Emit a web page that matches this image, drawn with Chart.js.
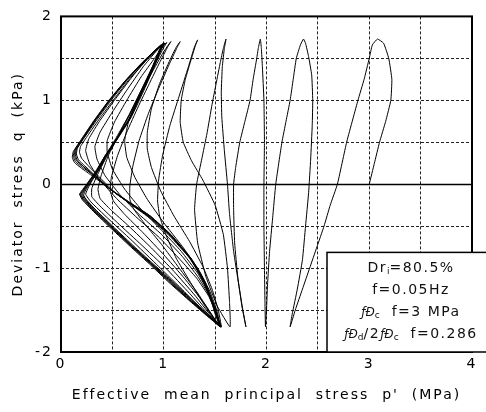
<!DOCTYPE html>
<html><head><meta charset="utf-8">
<script src="https://cdn.jsdelivr.net/npm/chart.js@4.4.0/dist/chart.umd.min.js"></script>
<style>html,body{margin:0;padding:0;background:#fff;}canvas{display:block;}</style>
</head><body>
<canvas id="c" width="486" height="412"></canvas>
<script>
// ---- axis ticks ----
const xTickValues = [0, 1, 2, 3, 4];
const yTickValues = [-2, -1, 0, 1, 2];
const xTitle = "Effective  mean  principal  stress  p'  (MPa)";
const yTitle = "Deviator  stress  q  (kPa)";
// ---- note text (segments: [text, 0 normal / 1 subscript / 2 small]) ----
const noteLine1 = [["Dr",0],["i",1],["=80.5%",0]];
const noteLine2 = [["f=0.05Hz",0]];
const noteLine3 = [["ƒÐ",2],["c",1],["  f=3 MPa",0]];
const noteLine4 = [["ƒÐ",2],["d",1],["/2",0],["ƒÐ",2],["c",1],["  f=0.286",0]];

// ---- stress path, [p', q], cycle by cycle ----
const cycle1 = [[3.00,0.00],[3.05,0.25],[3.10,0.50],[3.16,0.75],[3.21,1.00],[3.22,1.25],[3.19,1.50],[3.14,1.68],[3.08,1.73],
  [3.03,1.66],[3.00,1.50],[2.95,1.25],[2.89,1.00],[2.78,0.50],[2.69,0.00],[2.62,-0.25],[2.56,-0.50],[2.49,-0.75],[2.42,-1.00],[2.35,-1.25],[2.28,-1.50],[2.23,-1.70]];
const cycle2 = [[2.25,-1.55],[2.30,-1.25],[2.35,-0.90],[2.38,-0.50],[2.41,-0.10],[2.43,0.30],[2.445,0.70],[2.45,1.00],[2.44,1.30],[2.41,1.52],[2.38,1.68],[2.36,1.73],
  [2.33,1.66],[2.29,1.50],[2.26,1.25],[2.23,1.00],[2.19,0.75],[2.15,0.50],[2.09,0.00],[2.06,-0.40],[2.03,-0.80],[2.01,-1.20],[2.00,-1.50],[1.99,-1.70]];
const cycle3 = [[1.985,-1.40],[1.98,-1.00],[1.975,-0.50],[1.975,0.00],[1.98,0.50],[1.975,1.00],[1.96,1.40],[1.95,1.62],[1.94,1.73],
  [1.92,1.62],[1.905,1.50],[1.87,1.25],[1.84,1.00],[1.79,0.75],[1.74,0.50],[1.70,0.20],[1.68,0.00],[1.68,-0.30],[1.69,-0.70],[1.72,-1.10],[1.76,-1.45],[1.80,-1.70]];
const cycle4 = [[1.77,-1.50],[1.73,-1.20],[1.68,-0.80],[1.64,-0.35],[1.62,0.00],[1.59,0.40],[1.565,0.80],[1.56,1.10],[1.57,1.40],[1.59,1.62],[1.606,1.73],
  [1.58,1.62],[1.55,1.45],[1.51,1.20],[1.47,0.95],[1.42,0.60],[1.37,0.30],[1.32,0.00],[1.30,-0.30],[1.33,-0.70],[1.41,-1.10],[1.52,-1.45],[1.645,-1.70]];
const cycle5 = [[1.64,-1.40],[1.62,-1.00],[1.58,-0.60],[1.50,-0.25],[1.38,0.05],[1.27,0.28],[1.19,0.50],[1.16,0.74],[1.17,1.00],[1.21,1.25],[1.27,1.50],[1.31,1.66],[1.33,1.72],
  [1.30,1.64],[1.24,1.40],[1.15,1.05],[1.06,0.70],[0.99,0.35],[0.95,0.05],[0.94,-0.20],[0.96,-0.38],[1.02,-0.60],[1.12,-0.88],[1.25,-1.15],[1.40,-1.45],[1.50,-1.62],[1.56,-1.70]];
const cycle6 = [[1.53,-1.50],[1.47,-1.25],[1.38,-0.98],[1.25,-0.68],[1.10,-0.38],[0.97,-0.08],[0.88,0.20],[0.84,0.42],[0.84,0.62],[0.88,0.90],[0.96,1.20],[1.06,1.48],[1.12,1.63],[1.16,1.70],
  [1.13,1.63],[1.05,1.42],[0.95,1.14],[0.85,0.84],[0.76,0.52],[0.70,0.22],[0.67,-0.02],[0.67,-0.18],[0.71,-0.30],[0.82,-0.48],[0.98,-0.72],[1.15,-1.00],[1.32,-1.28],[1.45,-1.52],[1.55,-1.70]];
const cycle7 = [[1.52,-1.52],[1.45,-1.28],[1.34,-1.02],[1.18,-0.74],[1.00,-0.46],[0.84,-0.18],[0.72,0.08],[0.64,0.32],[0.62,0.52],[0.66,0.76],[0.76,1.04],[0.88,1.32],[0.99,1.56],[1.05,1.67],[1.07,1.70],
  [1.04,1.64],[0.96,1.45],[0.86,1.20],[0.75,0.92],[0.64,0.62],[0.55,0.34],[0.49,0.08],[0.48,-0.08],[0.51,-0.20],[0.62,-0.36],[0.80,-0.58],[1.00,-0.84],[1.20,-1.12],[1.38,-1.40],[1.50,-1.62],[1.55,-1.70]];
const cycle8 = [[1.51,-1.52],[1.44,-1.30],[1.33,-1.06],[1.17,-0.80],[0.98,-0.55],[0.78,-0.30],[0.62,-0.06],[0.50,0.18],[0.45,0.38],[0.45,0.52],[0.52,0.74],[0.64,1.00],[0.78,1.28],[0.91,1.50],[0.99,1.64],[1.03,1.69],
  [1.00,1.63],[0.92,1.44],[0.81,1.17],[0.69,0.88],[0.57,0.60],[0.46,0.34],[0.39,0.10],[0.36,-0.06],[0.38,-0.17],[0.48,-0.30],[0.66,-0.50],[0.88,-0.76],[1.10,-1.04],[1.30,-1.32],[1.46,-1.57],[1.55,-1.70]];
const cycle9 = [[1.51,-1.54],[1.44,-1.32],[1.33,-1.10],[1.18,-0.86],[0.98,-0.60],[0.76,-0.36],[0.57,-0.12],[0.43,0.10],[0.35,0.30],[0.33,0.45],[0.38,0.62],[0.50,0.86],[0.64,1.12],[0.80,1.40],[0.93,1.59],[1.01,1.68],
  [0.98,1.62],[0.90,1.42],[0.79,1.14],[0.67,0.84],[0.55,0.56],[0.44,0.32],[0.35,0.10],[0.30,-0.05],[0.30,-0.15],[0.38,-0.26],[0.55,-0.46],[0.78,-0.72],[1.02,-1.00],[1.25,-1.30],[1.44,-1.56],[1.55,-1.70]];
const cycle10 = [[1.51,-1.55],[1.44,-1.34],[1.32,-1.12],[1.16,-0.90],[0.96,-0.64],[0.74,-0.40],[0.54,-0.17],[0.38,0.05],[0.28,0.24],[0.24,0.40],[0.27,0.54],[0.38,0.76],[0.52,1.00],[0.68,1.26],[0.84,1.50],[0.95,1.64],[1.00,1.68],
  [0.97,1.62],[0.89,1.40],[0.78,1.12],[0.66,0.82],[0.54,0.56],[0.43,0.33],[0.34,0.12],[0.27,-0.03],[0.24,-0.12],[0.29,-0.21],[0.45,-0.40],[0.68,-0.66],[0.95,-0.98],[1.20,-1.28],[1.42,-1.56],[1.55,-1.70]];
const cycle11 = [[1.51,-1.55],[1.47,-1.41],[1.38,-1.14],[1.25,-0.88],[1.06,-0.62],[0.88,-0.42],[0.68,-0.24],[0.52,-0.09],[0.41,0.04],[0.32,0.15],[0.25,0.24],[0.20,0.31],[0.18,0.38],[0.19,0.45],[0.26,0.58],[0.38,0.79],[0.52,1.02],[0.67,1.26],[0.82,1.46],[0.93,1.60],[1.01,1.68],
  [0.98,1.62],[0.90,1.38],[0.80,1.10],[0.68,0.79],[0.55,0.54],[0.45,0.35],[0.37,0.17],[0.29,0.03],[0.24,-0.07],[0.22,-0.13],[0.25,-0.19],[0.35,-0.32],[0.52,-0.52],[0.71,-0.74],[0.88,-0.93],[1.07,-1.14],[1.27,-1.37],[1.43,-1.55],[1.52,-1.65],[1.55,-1.70]];
const cycle12 = [[1.50,-1.55],[1.47,-1.42],[1.38,-1.15],[1.26,-0.88],[1.06,-0.61],[0.87,-0.40],[0.67,-0.23],[0.50,-0.08],[0.40,0.03],[0.30,0.14],[0.23,0.22],[0.17,0.29],[0.15,0.36],[0.16,0.43],[0.23,0.56],[0.35,0.77],[0.50,1.02],[0.65,1.25],[0.80,1.45],[0.92,1.59],[0.99,1.67],
  [0.96,1.61],[0.88,1.37],[0.78,1.09],[0.66,0.77],[0.54,0.53],[0.44,0.34],[0.36,0.16],[0.28,0.02],[0.23,-0.07],[0.21,-0.12],[0.24,-0.18],[0.34,-0.31],[0.51,-0.52],[0.70,-0.74],[0.87,-0.93],[1.06,-1.14],[1.26,-1.37],[1.42,-1.55],[1.51,-1.64],[1.54,-1.69]];
const cycle13 = [[1.51,-1.56],[1.48,-1.43],[1.39,-1.16],[1.26,-0.89],[1.07,-0.61],[0.88,-0.40],[0.67,-0.23],[0.50,-0.08],[0.39,0.03],[0.29,0.13],[0.22,0.21],[0.16,0.28],[0.14,0.35],[0.15,0.42],[0.22,0.55],[0.34,0.77],[0.49,1.02],[0.65,1.26],[0.81,1.46],[0.93,1.60],[1.00,1.68],
  [0.97,1.62],[0.89,1.37],[0.78,1.08],[0.66,0.77],[0.53,0.52],[0.43,0.34],[0.35,0.16],[0.27,0.02],[0.22,-0.08],[0.20,-0.12],[0.23,-0.18],[0.33,-0.31],[0.50,-0.52],[0.70,-0.75],[0.87,-0.94],[1.06,-1.15],[1.26,-1.38],[1.43,-1.56],[1.52,-1.65],[1.55,-1.69]];
const cycle14 = [[1.51,-1.56],[1.48,-1.43],[1.39,-1.15],[1.26,-0.88],[1.06,-0.60],[0.87,-0.39],[0.66,-0.22],[0.50,-0.08],[0.40,0.03],[0.30,0.13],[0.22,0.21],[0.15,0.28],[0.13,0.34],[0.14,0.41],[0.21,0.54],[0.33,0.76],[0.48,1.01],[0.64,1.25],[0.80,1.45],[0.92,1.60],[1.00,1.68],
  [0.97,1.62],[0.88,1.36],[0.78,1.08],[0.66,0.76],[0.53,0.52],[0.43,0.34],[0.35,0.16],[0.27,0.02],[0.21,-0.08],[0.19,-0.12],[0.22,-0.18],[0.33,-0.32],[0.50,-0.52],[0.70,-0.75],[0.87,-0.94],[1.06,-1.16],[1.26,-1.39],[1.43,-1.57],[1.52,-1.66],[1.55,-1.70]];
const cycle15 = [[1.52,-1.56],[1.49,-1.44],[1.40,-1.16],[1.27,-0.89],[1.07,-0.60],[0.87,-0.38],[0.66,-0.21],[0.49,-0.07],[0.39,0.03],[0.29,0.13],[0.21,0.20],[0.14,0.27],[0.12,0.33],[0.13,0.40],[0.20,0.53],[0.32,0.75],[0.47,1.00],[0.64,1.25],[0.80,1.46],[0.93,1.61],[1.01,1.68],
  [0.98,1.62],[0.89,1.36],[0.78,1.07],[0.66,0.76],[0.53,0.51],[0.43,0.33],[0.34,0.15],[0.26,0.01],[0.21,-0.08],[0.185,-0.12],[0.22,-0.19],[0.33,-0.33],[0.50,-0.53],[0.70,-0.76],[0.87,-0.95],[1.06,-1.17],[1.27,-1.40],[1.44,-1.58],[1.53,-1.67],[1.56,-1.70]];
const cycle16 = [[1.52,-1.57],[1.49,-1.45],[1.40,-1.17],[1.27,-0.90],[1.07,-0.61],[0.87,-0.38],[0.66,-0.21],[0.49,-0.07],[0.38,0.03],[0.28,0.12],[0.20,0.19],[0.13,0.26],[0.11,0.32],[0.12,0.39],[0.19,0.52],[0.31,0.74],[0.46,0.99],[0.63,1.24],[0.79,1.45],[0.92,1.60],[1.00,1.67],
  [0.97,1.61],[0.88,1.35],[0.77,1.06],[0.65,0.75],[0.52,0.50],[0.42,0.32],[0.33,0.14],[0.25,0.00],[0.20,-0.08],[0.18,-0.12],[0.21,-0.19],[0.32,-0.33],[0.49,-0.53],[0.69,-0.76],[0.86,-0.95],[1.05,-1.17],[1.26,-1.40],[1.43,-1.58],[1.52,-1.67],[1.55,-1.70]];

const cycles = [cycle1,cycle2,cycle3,cycle4,cycle5,cycle6,cycle7,cycle8,cycle9,cycle10,cycle11,cycle12,cycle13,cycle14,cycle15,cycle16];
const pathPoints = cycles.flat().map(([p, q]) => ({x: p, y: q}));

const FONT = "'DejaVu Sans', sans-serif";

const framePlugin = {
  id: 'frameAndNote',
  beforeDraw(chart) { chart.ctx.letterSpacing = '2px'; },
  afterDatasetsDraw(chart) {
    const {ctx, chartArea: a, scales: {y}} = chart;
    ctx.save();
    ctx.strokeStyle = '#000';
    ctx.lineWidth = 1.5;
    const y0 = Math.round(y.getPixelForValue(0)) + 0.5;
    ctx.beginPath(); ctx.moveTo(a.left, y0); ctx.lineTo(a.right, y0); ctx.stroke();
    ctx.lineWidth = 2;
    ctx.strokeRect(a.left, a.top, a.right - a.left, a.bottom - a.top);
    ctx.restore();
  },
  afterDraw(chart) {
    const {ctx, chartArea: a} = chart;
    ctx.save();
    const bx = a.left + 266, by = a.top + 236;
    ctx.fillStyle = '#fff';
    ctx.fillRect(bx, by, 200, a.bottom - by);
    ctx.strokeStyle = '#000'; ctx.lineWidth = 1.5;
    ctx.strokeRect(bx, by, 200, a.bottom - by);
    const lines = [noteLine1, noteLine2, noteLine3, noteLine4];
    const cx = a.left + 350;
    ctx.fillStyle = '#111';
    ctx.textBaseline = 'alphabetic';
    ctx.textAlign = 'left';
    const fontFor = k => k === 0 ? "14px " + FONT : (k === 1 ? "9px " + FONT : "italic 12px " + FONT);
    lines.forEach((segs, i) => {
      const base = by + 20 + i * 21.7;
      let w = 0;
      segs.forEach(([t, k]) => { ctx.letterSpacing = k === 0 ? '1.5px' : '0px'; ctx.font = fontFor(k); w += ctx.measureText(t).width; });
      let xx = cx - w / 2;
      segs.forEach(([t, k]) => {
        ctx.letterSpacing = k === 0 ? '1.5px' : '0px';
        ctx.font = fontFor(k);
        ctx.fillText(t, xx, base + (k === 1 ? 2 : 0));
        xx += ctx.measureText(t).width;
      });
    });
    ctx.restore();
  }
};

new Chart(document.getElementById('c').getContext('2d'), {
  type: 'scatter',
  data: {datasets: [{data: pathPoints, showLine: true, borderColor: '#000', borderWidth: 1, pointRadius: 0, tension: 0.12, fill: false}]},
  options: {
    responsive: false, animation: false, devicePixelRatio: 1,
    layout: {padding: {top: 13, right: 14, left: 0, bottom: 0}},
    plugins: {legend: {display: false}, tooltip: {enabled: false}},
    scales: {
      x: {
        type: 'linear', min: 0, max: 4,
        afterFit(s) { s.height = 60; },
        ticks: {stepSize: 0.5, autoSkip: false, maxRotation: 0, padding: 4, color: '#000', font: {family: FONT, size: 14},
          callback: v => xTickValues.includes(v) ? String(v) : ''},
        grid: {color: '#222', lineWidth: 1, drawTicks: false},
        border: {display: false, dash: [3, 2]},
        title: {display: true, text: xTitle, color: '#000', font: {family: FONT, size: 14}, padding: {top: 0, bottom: 8}}
      },
      y: {
        type: 'linear', min: -2, max: 2,
        afterFit(s) { s.width = 61; },
        ticks: {stepSize: 0.5, autoSkip: false, padding: 8, color: '#000', font: {family: FONT, size: 14},
          callback: v => yTickValues.includes(v) ? String(v) : ''},
        grid: {color: '#222', lineWidth: 1, drawTicks: false},
        border: {display: false, dash: [3, 2]},
        title: {display: true, text: yTitle, color: '#000', font: {family: FONT, size: 14}, padding: {top: 10, bottom: 0}}
      }
    }
  },
  plugins: [framePlugin]
});
</script>
</body></html>
